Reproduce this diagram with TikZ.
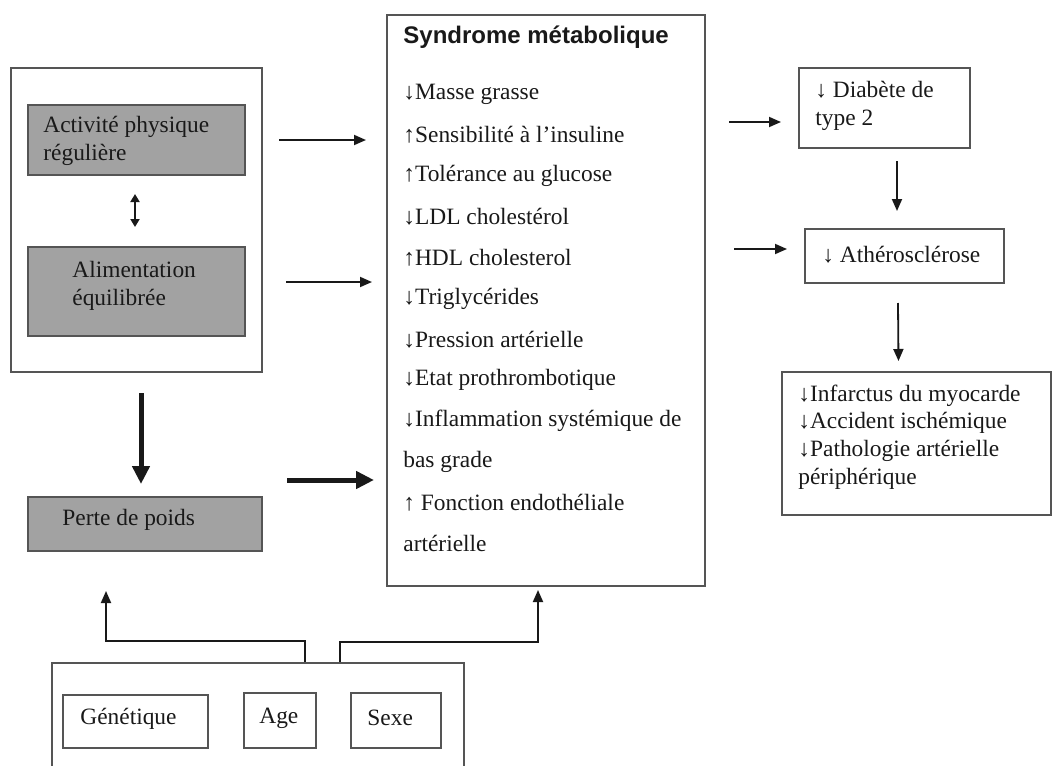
\documentclass[tikz,border=0pt]{standalone}
\usepackage{fontspec}
\setmainfont{Liberation Serif}
\setsansfont{Liberation Sans}
\usetikzlibrary{arrows.meta,fit,calc}
\definecolor{boxgray}{RGB}{162,162,162}
\definecolor{edge}{RGB}{85,85,85}
\definecolor{ink}{RGB}{25,25,25}
\begin{document}
\begin{tikzpicture}[x=0.5pt,y=-0.5pt,
  box/.style={draw=edge, line width=1pt, inner sep=0pt},
  graybox/.style={box, fill=boxgray},
  txt/.style={text=ink, font=\fontsize{11.7pt}{13.8pt}\selectfont, inner sep=0pt, align=left, anchor=west},
  arr/.style={draw=ink, line width=0.9pt, -{Triangle[length=6pt,width=5pt]}},
  bigarr/.style={draw=ink, line width=2.5pt, -{Triangle[length=9pt,width=8.5pt]}},
  dblarr/.style={draw=ink, line width=0.9pt, {Triangle[length=4pt,width=4.5pt]}-{Triangle[length=4pt,width=4.5pt]}}
]
\useasboundingbox (0,0) rectangle (1057,766);
\clip (0,0) rectangle (1057,766);
\fill[white] (0,0) rectangle (1057,766);

% left block
\node[box, fit={(11,68) (262,372)}] (lbox) {};
\node[graybox, fit={(28,105) (245,175)}] (act) {};
\node[txt] (actt) at (43,141) {Activité physique\\régulière};
\node[graybox, fit={(28,247) (245,336)}] (ali) {};
\node[txt] (alit) at (72,286) {Alimentation\\équilibrée};
\draw[dblarr, shorten <=9pt, shorten >=9.5pt] ([xshift=-0.75pt]act.south) -- ([xshift=-0.75pt]ali.north);

\node[graybox, fit={(28,497) (262,551)}] (perte) {};
\node[txt] (pertet) at (62,520) {Perte de poids};
\draw[bigarr] ($(lbox.south)+(2.25pt,-10pt)$) -- ($(perte.north)+(-2pt,6pt)$);

% syndrome box
\node[box, fit={(387,15) (705,586)}] (syn) {};
\node[anchor=west, inner sep=0pt, text=ink, font=\sffamily\bfseries\fontsize{12pt}{14pt}\selectfont] (title) at (403,37) {Syndrome métabolique};
\foreach \t [count=\i] in {↓Masse grasse, ↑Sensibilité à l’insuline, ↑Tolérance au glucose, ↓LDL cholestérol, ↑HDL cholesterol, ↓Triglycérides, ↓Pression artérielle, ↓Etat prothrombotique, ↓Inflammation systémique de, bas grade, ↑ Fonction endothéliale, artérielle}
  \node[txt] (s\i) at (403,{94+40.9*(\i-1)}) {\t};

% arrows into syndrome
\draw[arr] ($(act.east -| lbox.east)+(8pt,0)$) -- ($(act.east -| syn.west)+(-10pt,0)$);
\draw[arr] ($(ali.east -| lbox.east)+(11.5pt,4.75pt)$) -- ($(ali.east -| syn.west)+(-7pt,4.75pt)$);
\coordinate (tp) at ($(perte.east)+(12pt,22pt)$);
\draw[bigarr] (tp) -- ($(tp -| syn.west)+(-6pt,0)$);

% right side
\node[box, fit={(799,68) (970,148)}] (diab) {};
\node[txt] (diabt) at (815,106) {↓ Diabète de\\type 2};
\node[box, fit={(805,229) (1004,283)}] (ath) {};
\node[txt] (atht) at (822,255) {↓ Athérosclérose};
\node[box, fit={(782,372) (1051,515)}] (inf) {};
\node[txt] (inft) at (798,437) {↓Infarctus du myocarde\\↓Accident ischémique\\↓Pathologie artérielle\\périphérique};

\draw[arr] ($(diab.west -| syn.east)+(11.5pt,-7pt)$) -- ($(diab.west)+(-8.5pt,-7pt)$);
\draw[arr] ($(ath.west -| syn.east)+(14pt,3.5pt)$) -- ($(ath.west)+(-8.5pt,3.5pt)$);
\draw[arr] ($(diab.south)+(6.25pt,-6pt)$) -- ($(ath.north)+(-3.75pt,8.5pt)$);
\draw[arr] ($(ath.south)+(-3.25pt,-9.5pt)$) -- ($(inf.north)+(-9pt,5pt)$);

% bottom factors
\node[box, fit={(52,663) (464,820)}] (bot) {};
\node[box, fit={(63,695) (208,748)}] (gen) {};
\node[txt] (gent) at (80,719) {Génétique};
\node[box, fit={(244,693) (316,748)}] (age) {};
\node[txt] (aget) at (259,718) {Age};
\node[box, fit={(351,693) (441,748)}] (sexe) {};
\node[txt] (sexet) at (367,718) {Sexe};

\draw[arr] ($(bot.north)+(23.5pt,0)$) -- ++(0,10.5pt) -| ($(perte.south)+(-19.5pt,-19.5pt)$);
\draw[arr] ($(bot.north)+(41pt,0)$) -- ++(0,10pt) -| ($(syn.south)+(-4pt,-1.5pt)$);
\end{tikzpicture}
\end{document}
